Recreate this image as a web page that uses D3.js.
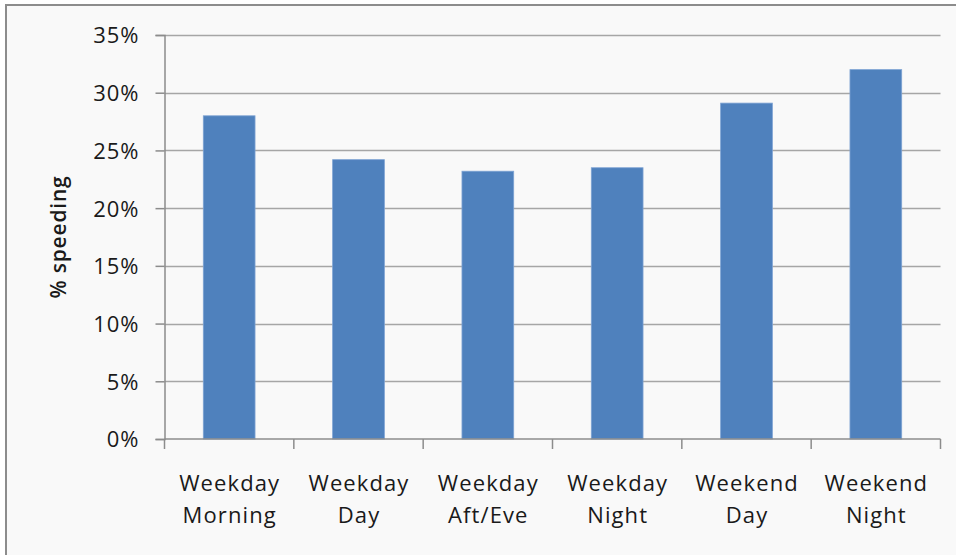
<!DOCTYPE html>
<html>
<head>
<meta charset="utf-8">
<script src="https://cdn.jsdelivr.net/npm/d3@7"></script>
<style>
  html, body { margin: 0; padding: 0; background: #ffffff; }
  svg text { font-family: "Open Sans", Lato, sans-serif; fill: #1a1a1a; }
</style>
</head>
<body>
<svg id="chart" width="956" height="555"></svg>
<script>
// Share of vehicles speeding, by time period
const categories = [
  ["Weekday", "Morning"],
  ["Weekday", "Day"],
  ["Weekday", "Aft/Eve"],
  ["Weekday", "Night"],
  ["Weekend", "Day"],
  ["Weekend", "Night"]
];
const speeding = [0.280, 0.242, 0.232, 0.235, 0.291, 0.320];
const yTicks = [0, 0.05, 0.10, 0.15, 0.20, 0.25, 0.30, 0.35];
const yLabel = "% speeding";

const svg = d3.select("#chart");

// chart frame
svg.append("rect")
  .attr("x", 6).attr("y", 5)
  .attr("width", 960).attr("height", 560)
  .attr("fill", "#f9f9f9")
  .attr("stroke", "#8c8c8c")
  .attr("stroke-width", 2);

const plot = { left: 164.5, right: 940.5, top: 35, bottom: 439 };

const x = d3.scaleBand()
  .domain(d3.range(categories.length))
  .range([plot.left, plot.right])
  .paddingInner(0.6)
  .paddingOuter(0.3);

const y = d3.scaleLinear()
  .domain([0, 0.35])
  .range([plot.bottom, plot.top]);

// horizontal gridlines
svg.append("g")
  .selectAll("line")
  .data(yTicks.filter(t => t > 0))
  .join("line")
  .attr("x1", plot.left).attr("x2", plot.right)
  .attr("y1", d => Math.round(y(d)) + 0.5)
  .attr("y2", d => Math.round(y(d)) + 0.5)
  .attr("stroke", "#a6a6a6")
  .attr("stroke-width", 1.5);

// bars
svg.append("g")
  .selectAll("rect")
  .data(speeding)
  .join("rect")
  .attr("x", (d, i) => x(i))
  .attr("width", x.bandwidth())
  .attr("y", d => y(d))
  .attr("height", d => y(0) - y(d))
  .attr("fill", "#4f81bd")
  .attr("stroke", "#7ea3d3")
  .attr("stroke-width", 0.8);

// y axis
const yAxis = d3.axisLeft(y)
  .tickValues(yTicks)
  .tickFormat(d3.format(".0%"))
  .tickSize(9)
  .tickPadding(16);

const gy = svg.append("g")
  .attr("transform", `translate(${plot.left},0)`)
  .call(yAxis);
gy.select(".domain").attr("stroke", "#8c8c8c").attr("stroke-width", 1.5);
gy.selectAll(".tick line").attr("stroke", "#8c8c8c").attr("stroke-width", 1.5);
gy.selectAll(".tick text")
  .style("font-size", "22px")
  .style("letter-spacing", "1px")
  .style("font-family", "'Open Sans', Lato, sans-serif")
  .attr("fill", "#1a1a1a")
  .attr("dy", "0.36em");

// x axis: tick marks on category boundaries
const xEdge = d3.scaleLinear()
  .domain([0, categories.length])
  .range([plot.left, plot.right]);

svg.append("line")
  .attr("x1", plot.left).attr("x2", plot.right)
  .attr("y1", plot.bottom).attr("y2", plot.bottom)
  .attr("stroke", "#8c8c8c").attr("stroke-width", 1.5);

svg.append("g")
  .selectAll("line")
  .data(d3.range(categories.length + 1))
  .join("line")
  .attr("x1", d => xEdge(d)).attr("x2", d => xEdge(d))
  .attr("y1", plot.bottom).attr("y2", plot.bottom + 10)
  .attr("stroke", "#8c8c8c").attr("stroke-width", 1.5);

// category labels, two lines each
const labels = svg.append("g")
  .selectAll("text")
  .data(categories)
  .join("text")
  .attr("text-anchor", "middle")
  .style("font-size", "22px")
  .style("letter-spacing", "1.1px")
  .attr("transform", (d, i) => `translate(${x(i) + x.bandwidth() / 2 + 0.5},0)`);

labels.selectAll("tspan")
  .data(d => d)
  .join("tspan")
  .attr("x", 0)
  .attr("y", (d, i) => 491 + i * 32)
  .text(d => d);

// y axis title
svg.append("text")
  .attr("transform", "translate(66,237) rotate(-90)")
  .attr("text-anchor", "middle")
  .style("font-size", "21px")
  .style("letter-spacing", "0.8px")
  .style("font-weight", "600")
  .text(yLabel);
</script>
</body>
</html>
